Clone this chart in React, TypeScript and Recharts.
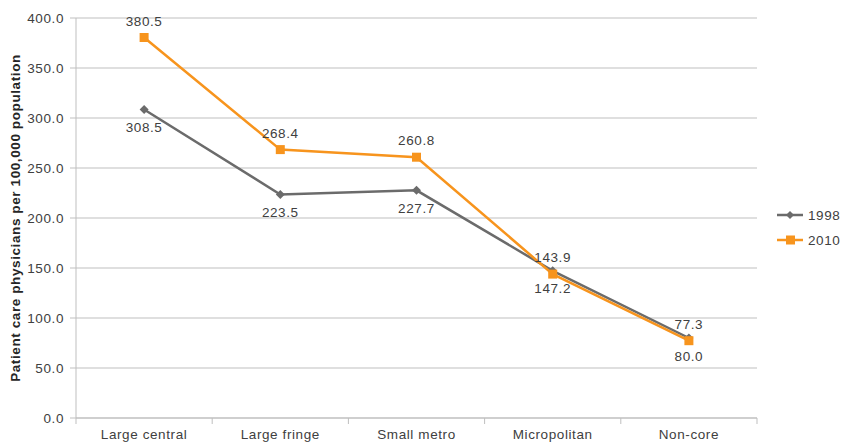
import React from 'react';
import {
  LineChart,
  Line,
  XAxis,
  YAxis,
  CartesianGrid,
  Legend,
  LabelList,
} from 'recharts';

const categories = ['Large central', 'Large fringe', 'Small metro', 'Micropolitan', 'Non-core'];
const series1998 = [308.5, 223.5, 227.7, 147.2, 80.0];
const series2010 = [380.5, 268.4, 260.8, 143.9, 77.3];
const yTicks = [0, 50, 100, 150, 200, 250, 300, 350, 400];

const data = categories.map((name, i) => ({
  name,
  y1998: series1998[i],
  y2010: series2010[i],
}));

const GRAY = '#6b6b6b';
const ORANGE = '#f7941d';
const TEXT = '#404040';
const GRID = '#bfbfbf';
const FONT = '"Liberation Sans", Arial, sans-serif';

const WIDTH = 841;
const HEIGHT = 445;
const margin = { top: 18, right: 84, bottom: 0, left: 10 };
const Y_AXIS_W = 66;
const plotW = WIDTH - margin.left - margin.right - Y_AXIS_W;
const halfBand = plotW / categories.length / 2;

const textStyle = { fontFamily: FONT, fontSize: 13.5, letterSpacing: 0.6, fill: TEXT };

const Diamond = (props: any) => {
  const { cx, cy } = props;
  if (cx == null || cy == null) return null;
  const r = 4.5;
  return (
    <path
      d={`M${cx},${cy - r}L${cx + r},${cy}L${cx},${cy + r}L${cx - r},${cy}Z`}
      fill={GRAY}
    />
  );
};

const Square = (props: any) => {
  const { cx, cy } = props;
  if (cx == null || cy == null) return null;
  const s = 9;
  return <rect x={cx - s / 2} y={cy - s / 2} width={s} height={s} fill={ORANGE} />;
};

// category labels at band centres, tick marks at band edges
const XTick = (props: any) => {
  const { x, y, payload, index } = props;
  const axisY = y - 11;
  return (
    <g>
      <line x1={x - halfBand} x2={x - halfBand} y1={axisY} y2={axisY + 6} stroke={GRID} />
      {index === categories.length - 1 && (
        <line x1={x + halfBand} x2={x + halfBand} y1={axisY} y2={axisY + 6} stroke={GRID} />
      )}
      <text x={x} y={y} dy="0.71em" textAnchor="middle" style={textStyle}>
        {payload.value}
      </text>
    </g>
  );
};

const LegendContent = (props: any) => {
  const items = props.payload || [];
  return (
    <svg width={70} height={50}>
      {items.map((it: any, i: number) => {
        const cy = 12 + i * 25;
        const color = it.color;
        return (
          <g key={it.value}>
            <line x1={2} x2={28} y1={cy} y2={cy} stroke={color} strokeWidth={2.5} />
            {i === 0 ? (
              <path d={`M15,${cy - 4}L19,${cy}L15,${cy + 4}L11,${cy}Z`} fill={color} />
            ) : (
              <rect x={11} y={cy - 4.5} width={9} height={9} fill={color} />
            )}
            <text x={33} y={cy} dy="0.35em" style={textStyle}>
              {it.value}
            </text>
          </g>
        );
      })}
    </svg>
  );
};

const fmt = (v: any) => Number(v).toFixed(1);

export default function App() {
  return (
    <div style={{ position: 'absolute', left: 0, top: 0, background: '#fff' }}>
      <LineChart width={WIDTH} height={HEIGHT} data={data} margin={margin}>
        <CartesianGrid vertical={false} stroke={GRID} />
        <XAxis
          dataKey="name"
          height={27}
          padding={{ left: halfBand, right: halfBand }}
          tickSize={0}
          tickMargin={11}
          tickLine={false}
          axisLine={{ stroke: GRID }}
          tick={<XTick />}
          interval={0}
        />
        <YAxis
          width={Y_AXIS_W}
          domain={[0, 400]}
          ticks={yTicks}
          tickFormatter={fmt}
          tickSize={6}
          tickMargin={6}
          tickLine={{ stroke: GRID }}
          axisLine={{ stroke: GRID }}
          tick={textStyle}
          label={{
            value: 'Patient care physicians per 100,000 population',
            angle: -90,
            position: 'insideLeft',
            offset: 5,
            style: {
              textAnchor: 'middle',
              fontFamily: FONT,
              fontSize: 13.5,
              letterSpacing: 0.6,
              fontWeight: 'bold',
              fill: '#262626',
            },
          }}
        />
        <Legend
          align="center"
          verticalAlign="middle"
          layout="horizontal"
          wrapperStyle={{ left: 775, top: 203, width: 70, height: 50 }}
          content={<LegendContent />}
        />
        <Line
          dataKey="y1998"
          name="1998"
          stroke={GRAY}
          strokeWidth={2.5}
          dot={<Diamond />}
          isAnimationActive={false}
        >
          <LabelList dataKey="y1998" position="bottom" offset={13} formatter={fmt} style={textStyle} />
        </Line>
        <Line
          dataKey="y2010"
          name="2010"
          stroke={ORANGE}
          strokeWidth={2.5}
          dot={<Square />}
          isAnimationActive={false}
        >
          <LabelList dataKey="y2010" position="top" offset={12} formatter={fmt} style={textStyle} />
        </Line>
      </LineChart>
    </div>
  );
}
